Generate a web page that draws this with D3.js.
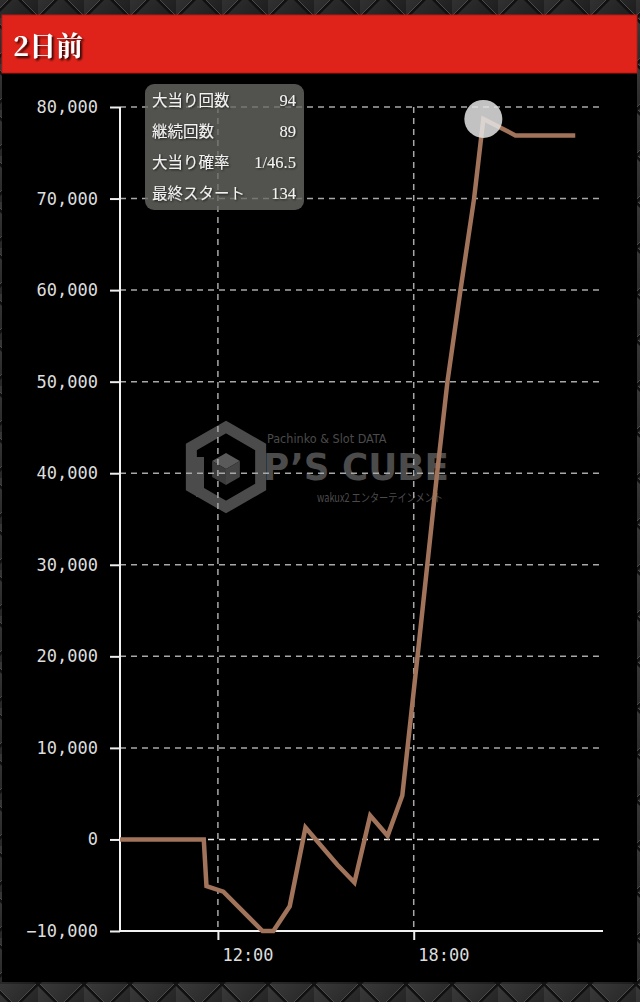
<!DOCTYPE html>
<html><head><meta charset="utf-8">
<script src="https://cdn.jsdelivr.net/npm/d3@7"></script>
<style>
html,body{margin:0;padding:0;background:#222;}
svg{display:block;}
</style></head>
<body>
<script>
// ---- data ----
const title = "2日前";
const times = ["09:00","11:34","11:39","12:10","13:22","13:42","14:12","14:41","15:40","16:11","16:40","17:12","17:39","18:07","18:25","18:43","19:02","19:26","19:51","20:08","21:07","22:57"];
const values = [0,0,-5100,-5700,-10000,-10000,-7300,1300,-2800,-4700,2600,400,4800,20000,30000,40000,50000,60000,70000,78700,76900,76900];
const yTicks = [-10000,0,10000,20000,30000,40000,50000,60000,70000,80000];
const xTicks = ["12:00","18:00"];
const statLabels = ["大当り回数","継続回数","大当り確率","最終スタート"];
const statValues = ["94","89","1/46.5","134"];
const peakIndex = 19;

const W = 640, H = 1002;
const parse = d3.timeParse("%H:%M");
const data = times.map((t,i)=>({t:parse(t), v:values[i]}));

const svg = d3.select("body").append("svg").attr("width",W).attr("height",H);
const defs = svg.append("defs");

// background pattern
const pat = defs.append("pattern").attr("id","bgpat").attr("patternUnits","userSpaceOnUse")
  .attr("width",46).attr("height",46).attr("x",-8).attr("y",-28);
const lg = defs.append("linearGradient").attr("id","bggrad").attr("x1",0).attr("y1",0).attr("x2",1).attr("y2",1);
lg.append("stop").attr("offset",0).attr("stop-color","#3a3a3a");
lg.append("stop").attr("offset",1).attr("stop-color","#1c1c1c");
pat.append("rect").attr("width",46).attr("height",46).attr("fill","url(#bggrad)");
pat.append("path").attr("d","M0,0L46,46M46,0L0,46").attr("stroke","#111").attr("stroke-width",3);
pat.append("path").attr("d","M2,0L46,44M44,0L0,44").attr("stroke","#4a4a4a").attr("stroke-width",1);
svg.append("rect").attr("width",W).attr("height",H).attr("fill","url(#bgpat)");

// black panel
svg.append("rect").attr("x",2).attr("y",15).attr("width",635).attr("height",967).attr("fill","#000");
// header
svg.append("rect").attr("x",2).attr("y",15).attr("width",635).attr("height",58).attr("fill","#e0231a")
  .attr("stroke","#b81a12").attr("stroke-width",1);
const shadow = defs.append("filter").attr("id","tshadow").attr("x","-20%").attr("y","-20%").attr("width","150%").attr("height","150%");
shadow.append("feDropShadow").attr("dx",2).attr("dy",2).attr("stdDeviation",1).attr("flood-color","#000").attr("flood-opacity",0.8);
svg.append("text").attr("x",13).attr("y",56).text(title)
  .attr("font-family","'Noto Serif CJK JP','Noto Sans CJK JP',serif").attr("font-weight","bold")
  .attr("font-size",27).attr("fill","#fff").attr("filter","url(#tshadow)");

// scales
const x = d3.scaleTime().domain([parse("09:00"), parse("23:48")]).range([120,603]);
const y = d3.scaleLinear().domain([-10000,80000]).range([931,107]);

// watermark
const wm = svg.append("g").attr("fill","#4b4b4b");
{
  const cx=226, cy=467, r=40;
  const hex = d3.range(6).map(i=>{const a=Math.PI/3*i - Math.PI/2; return [cx+r*Math.cos(a), cy+r*Math.sin(a)];});
  wm.append("path").attr("d","M"+hex.join("L")+"Z").attr("fill","none").attr("stroke","#4b4b4b").attr("stroke-width",11);
  const r2=16, c2=[cx,cy+2];
  const h2 = d3.range(6).map(i=>{const a=Math.PI/3*i - Math.PI/2; return [c2[0]+r2*Math.cos(a), c2[1]+r2*Math.sin(a)];});
  wm.append("path").attr("d",`M${h2[0]}L${h2[1]}L${c2}L${h2[5]}Z`).attr("fill","#5a5a5a");
  wm.append("path").attr("d",`M${h2[1]}L${h2[2]}L${h2[3]}L${c2}Z`).attr("fill","#444");
  wm.append("path").attr("d",`M${h2[3]}L${h2[4]}L${h2[5]}L${c2}Z`).attr("fill","#3c3c3c");
  wm.append("rect").attr("x",cx-30).attr("y",cy-10).attr("width",8).attr("height",40).attr("fill","#4b4b4b");
  wm.append("text").attr("x",267).attr("y",443).text("Pachinko & Slot DATA")
    .attr("font-family","'DejaVu Sans Condensed','Liberation Sans Narrow',sans-serif").attr("font-size",12.5);
  wm.append("text").attr("x",263).attr("y",480).text("P’S CUBE")
    .attr("font-family","'DejaVu Sans',sans-serif").attr("font-weight","bold").attr("font-size",38)
    .attr("textLength",186).attr("lengthAdjust","spacingAndGlyphs");
  wm.append("text").attr("x",317).attr("y",502).text("wakux2 エンターテインメント")
    .attr("font-family","'Noto Sans CJK JP',sans-serif").attr("font-size",11.5)
    .attr("textLength",126).attr("lengthAdjust","spacingAndGlyphs");
}

// grid
const grid = svg.append("g");
grid.selectAll("line.h").data(yTicks.filter(d=>d!==-10000)).join("line").attr("class","h")
  .attr("x1",120).attr("x2",603).attr("y1",d=>y(d)).attr("y2",d=>y(d))
  .attr("stroke",d=>d===0?"#eee":"#a8a8a8").attr("stroke-width",1.5).attr("stroke-dasharray","6,5");
grid.selectAll("line.v").data(xTicks).join("line").attr("class","v")
  .attr("x1",d=>x(parse(d))).attr("x2",d=>x(parse(d))).attr("y1",y(80000)).attr("y2",y(-10000))
  .attr("stroke","#a8a8a8").attr("stroke-width",1.5).attr("stroke-dasharray","6,5");

// axes
const yAxis = svg.append("g").attr("transform","translate(120,0)")
  .call(d3.axisLeft(y).tickValues(yTicks).tickFormat(d3.format(",")).tickSize(10).tickPadding(12));
const xAxis = svg.append("g").attr("transform","translate(0,931)")
  .call(d3.axisBottom(x).tickValues(xTicks.map(parse)).tickFormat(d3.timeFormat("%H:%M")).tickSize(9));
[yAxis,xAxis].forEach(g=>{
  g.select(".domain").remove();
  g.selectAll(".tick line").attr("stroke","#eee").attr("stroke-width",2);
  g.selectAll("text").attr("fill","#ddd").attr("font-family","'DejaVu Sans Mono',monospace").attr("font-size",17);
});
yAxis.selectAll("text").attr("dy","0.32em");
xAxis.selectAll("text").attr("text-anchor","start").attr("dx",4).attr("dy",0).attr("y",30);
svg.append("line").attr("x1",120).attr("x2",120).attr("y1",y(80000)).attr("y2",y(-10000)+1).attr("stroke","#f2f2f2").attr("stroke-width",2);
svg.append("line").attr("x1",119).attr("x2",603).attr("y1",y(-10000)).attr("y2",y(-10000)).attr("stroke","#f2f2f2").attr("stroke-width",2);

// line
const line = d3.line().x(d=>x(d.t)).y(d=>y(d.v));
svg.append("path").datum(data).attr("d",line).attr("fill","none")
  .attr("stroke","#a0735a").attr("stroke-width",4.5).attr("stroke-linejoin","miter");

// highlight circle
svg.append("circle").attr("cx",x(data[peakIndex].t)).attr("cy",y(data[peakIndex].v)).attr("r",19)
  .attr("fill","rgba(228,228,228,0.85)");

// tooltip
const tip = svg.append("g");
tip.append("rect").attr("x",145).attr("y",84).attr("width",159).attr("height",126).attr("rx",9)
  .attr("fill","rgba(105,105,100,0.78)");
const ts = defs.append("filter").attr("id","tipsh");
ts.append("feDropShadow").attr("dx",1).attr("dy",1).attr("stdDeviation",0.8).attr("flood-color","#000").attr("flood-opacity",0.7);
statLabels.forEach((l,i)=>{
  tip.append("text").attr("x",152).attr("y",106+i*31).text(l)
    .attr("font-family","'Liberation Serif','Noto Sans CJK JP',serif").attr("font-size",15.5)
    .attr("fill","#f2f2f2").attr("filter","url(#tipsh)");
  tip.append("text").attr("x",296).attr("y",106+i*31).attr("text-anchor","end").text(statValues[i])
    .attr("font-family","'Liberation Serif',serif").attr("font-size",16.5)
    .attr("fill","#f2f2f2").attr("filter","url(#tipsh)");
});
</script>
</body></html>
